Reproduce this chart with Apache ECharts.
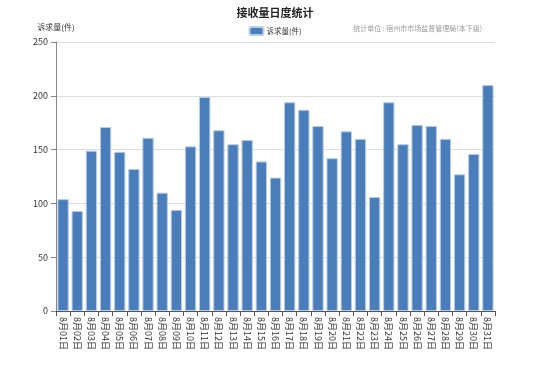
<!DOCTYPE html>
<html><head><meta charset="utf-8">
<script src="https://cdn.jsdelivr.net/npm/echarts@6/dist/echarts.min.js"></script>
<style>html,body{margin:0;padding:0;background:#fff}#c{width:550px;height:379px}</style>
</head><body><div id="c"></div>
<script>
const categories = ['8月01日','8月02日','8月03日','8月04日','8月05日','8月06日','8月07日','8月08日','8月09日','8月10日','8月11日','8月12日','8月13日','8月14日','8月15日','8月16日','8月17日','8月18日','8月19日','8月20日','8月21日','8月22日','8月23日','8月24日','8月25日','8月26日','8月27日','8月28日','8月29日','8月30日','8月31日'];
const values = [104,93,149,171,148,132,161,110,94,153,199,168,155,159,139,124,194,187,172,142,167,160,106,194,155,173,172,160,127,146,210];
const yTicks = [0,50,100,150,200,250];
const FONT = '"Noto Sans CJK SC", "Noto Sans", sans-serif';
const chart = echarts.init(document.getElementById('c'));
chart.setOption({
  animation:false,
  textStyle:{fontFamily:FONT},
  title:[
    {text:'接收量日度统计', left:'center', top:2, textStyle:{fontSize:11, fontWeight:'bold', color:'#222', fontFamily:FONT}},
    {text:'统计单位 : 宿州市市场监督管理局(本下级)', right:63, top:20, textStyle:{fontSize:7, fontWeight:'normal', color:'#999', fontFamily:FONT}}
  ],
  legend:{data:['诉求量(件)'], left:'center', top:21, itemWidth:14, itemHeight:8, itemGap:4, textStyle:{fontSize:7.5, color:'#333', padding:[0,0,0,-2]}},
  grid:{left:56, right:55, top:42, bottom:68, containLabel:false},
  xAxis:{type:'category', data:categories,
    axisLine:{lineStyle:{color:'#555'}}, axisTick:{show:true, lineStyle:{color:'#555'}},
    axisLabel:{rotate:-90, fontSize:9, color:'#333', interval:0, margin:6}},
  yAxis:{type:'value', min:0, max:250, interval:50, name:'诉求量(件)',
    nameTextStyle:{fontSize:8, color:'#333', align:'center', padding:[0,0,0,0]}, nameGap:11,
    axisLine:{show:true, lineStyle:{color:'#888'}}, axisTick:{show:true, lineStyle:{color:'#888'}},
    axisLabel:{fontSize:9, color:'#333', formatter:v=>yTicks.includes(v)?String(v):''},
    splitLine:{lineStyle:{color:'#ddd'}}},
  series:[{name:'诉求量(件)', type:'bar', data:values, barCategoryGap:'20%',
    itemStyle:{color:'#4a7ebb', borderColor:'#b8cde8', borderWidth:1}}]
});
</script></body></html>
